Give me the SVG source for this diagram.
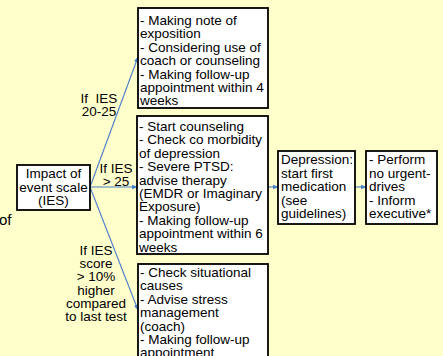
<svg xmlns="http://www.w3.org/2000/svg" width="443" height="356" viewBox="0 0 443 356">
<style>
.bg{fill:#FFFFCC}
.box{fill:#FFFFFF;stroke:#000000;stroke-width:1.8}
text{font-family:"Liberation Sans",Arial,sans-serif;font-size:13.5px;fill:#000000}
.c{text-anchor:middle}
.conn{stroke:#4A7EC8;stroke-width:1.1;fill:none;marker-end:url(#ah)}
</style>
<defs>
<marker id="ah" viewBox="0 0 10 10" refX="9" refY="5" markerWidth="6" markerHeight="6" orient="auto" markerUnits="userSpaceOnUse">
<path d="M0,1 L10,5 L0,9 z" fill="#4A7EC8"/>
</marker>
</defs>
<rect class="bg" x="0" y="0" width="443" height="356"/>
<text x="-1" y="225" style="font-size:15px">of</text>
<g id="connectors">
<line class="conn" x1="90" y1="187" x2="138" y2="57"/>
<line class="conn" x1="90" y1="187" x2="137" y2="187"/>
<line class="conn" x1="90" y1="187" x2="138" y2="310"/>
<line class="conn" x1="268" y1="187" x2="278" y2="187"/>
<line class="conn" x1="355" y1="187" x2="366" y2="187"/>
<g id="labels">
<text class="c" x="99" y="103">If&#160; IES</text>
<text class="c" x="99" y="116">20-25</text>
<text class="c" x="116" y="173">If IES</text>
<text class="c" x="116" y="186">&gt; 25</text>
<text class="c" x="96" y="255">If IES</text>
<text class="c" x="96" y="268.2">score</text>
<text class="c" x="96" y="281.4">&gt; 10%</text>
<text class="c" x="96" y="294.6">higher</text>
<text class="c" x="96" y="307.8">compared</text>
<text class="c" x="96" y="321">to last test</text>
</g>
</g>
<g id="ies">
<rect class="box" x="17" y="165" width="73" height="45"/>
<text class="c" x="53.5" y="178">Impact of</text>
<text class="c" x="53.5" y="191.5">event scale</text>
<text class="c" x="53.5" y="205">(IES)</text>
</g>
<g id="box1">
<rect class="box" x="138" y="8" width="130" height="100"/>
<text x="140" y="25">- Making note of</text>
<text x="140" y="38.4">exposition</text>
<text x="140" y="51.8">- Considering use of</text>
<text x="140" y="65.2">coach or counseling</text>
<text x="140" y="78.6">- Making follow-up</text>
<text x="140" y="92">appointment within 4</text>
<text x="140" y="105.4">weeks</text>
</g>
<g id="box2">
<rect class="box" x="137" y="116" width="131" height="138"/>
<text x="139" y="131">- Start counseling</text>
<text x="139" y="144.4">- Check co morbidity</text>
<text x="139" y="157.8">of depression</text>
<text x="139" y="171.2">- Severe PTSD:</text>
<text x="139" y="184.6">advise therapy</text>
<text x="139" y="198">(EMDR or Imaginary</text>
<text x="139" y="211.4">Exposure)</text>
<text x="139" y="224.8">- Making follow-up</text>
<text x="139" y="238.2">appointment within 6</text>
<text x="139" y="251.6">weeks</text>
</g>
<g id="box3">
<rect class="box" x="138" y="264" width="130" height="100"/>
<text x="140" y="277">- Check situational</text>
<text x="140" y="290.4">causes</text>
<text x="140" y="303.8">- Advise stress</text>
<text x="140" y="317.2">management</text>
<text x="140" y="330.6">(coach)</text>
<text x="140" y="344">- Making follow-up</text>
<text x="140" y="357.4">appointment</text>
</g>
<g id="depression">
<rect class="box" x="278" y="151" width="77" height="73"/>
<text x="281" y="164">Depression:</text>
<text x="281" y="177.5">start first</text>
<text x="281" y="191">medication</text>
<text x="281" y="204.5">(see</text>
<text x="281" y="218">guidelines)</text>
</g>
<g id="actions">
<rect class="box" x="366" y="151" width="71" height="73"/>
<text x="369" y="164">- Perform</text>
<text x="369" y="177.5">no urgent-</text>
<text x="369" y="191">drives</text>
<text x="369" y="204.5">- Inform</text>
<text x="369" y="218">executive*</text>
</g>
</svg>
